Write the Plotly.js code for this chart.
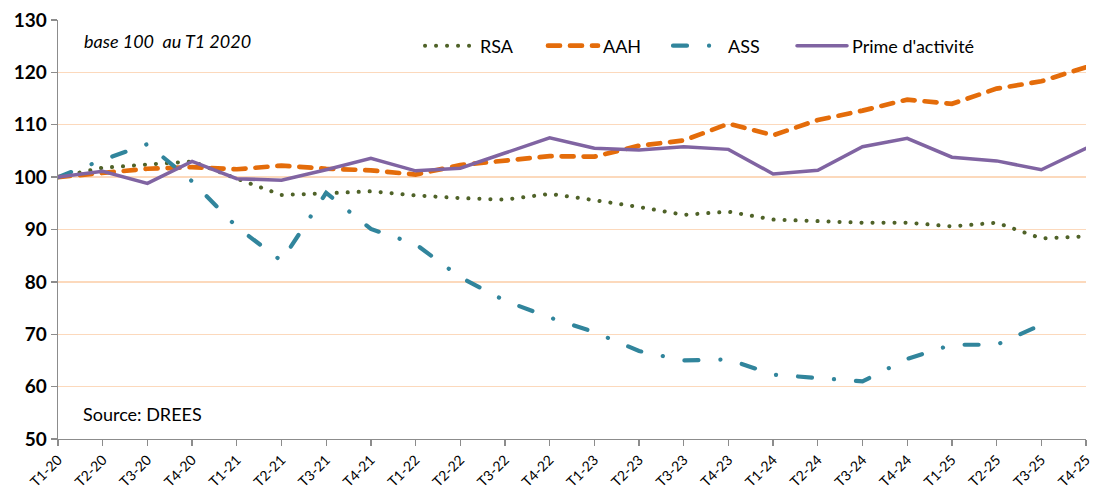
<!DOCTYPE html>
<html>
<head>
<meta charset="utf-8">
<script src="https://cdn.plot.ly/plotly-3.0.1.min.js"></script>
<style>
  html, body { margin: 0; padding: 0; background: #fff; }
  #chart { width: 1095px; height: 490px; }
  path.js-line { stroke-linecap: round !important; }
</style>
</head>
<body>
<div id="chart"></div>
<script>
const categories = ["T1-20","T2-20","T3-20","T4-20","T1-21","T2-21","T3-21","T4-21","T1-22","T2-22","T3-22","T4-22","T1-23","T2-23","T3-23","T4-23","T1-24","T2-24","T3-24","T4-24","T1-25","T2-25","T3-25","T4-25"];
const rsa   = [100, 101.8, 102.4, 103.0, 99.7, 96.6, 96.9, 97.3, 96.5, 96.0, 95.7, 96.8, 95.6, 94.3, 92.8, 93.4, 91.9, 91.6, 91.3, 91.3, 90.6, 91.3, 88.3, 88.7];
const aah   = [100, 100.8, 101.6, 101.9, 101.5, 102.2, 101.6, 101.3, 100.5, 102.3, 103.2, 104.0, 103.9, 106.0, 107.0, 110.2, 108.0, 110.9, 112.7, 114.8, 114.0, 116.9, 118.3, 121.0];
const ass   = [100, 103.3, 106.3, 99.2, 90.5, 84.0, 97.0, 90.1, 87.2, 80.9, 76.4, 73.2, 70.4, 66.8, 65.0, 65.2, 62.3, 61.6, 61.0, 65.3, 68.0, 68.0, 71.8, null];
const prime = [100, 101.1, 98.8, 103.0, 99.7, 99.4, 101.4, 103.6, 101.2, 101.7, 104.6, 107.5, 105.5, 105.2, 105.8, 105.3, 100.6, 101.3, 105.8, 107.4, 103.8, 103.1, 101.4, 105.5];
const seriesNames = ["RSA", "AAH", "ASS", "Prime d'activité"];
const yTicks = [50, 60, 70, 80, 90, 100, 110, 120, 130];

const FONT = "Lato, 'Open Sans', sans-serif";

const traces = [
  {x: categories, y: rsa, name: seriesNames[0], type: "scatter", mode: "lines", legend: "legend",
   line: {color: "#4F6228", width: 4, dash: "0.1px,10.9px"}},
  {x: categories, y: aah, name: seriesNames[1], type: "scatter", mode: "lines", legend: "legend2",
   line: {color: "#E46C0A", width: 4.7, dash: "12px,10px"}},
  {x: categories, y: ass, name: seriesNames[2], type: "scatter", mode: "lines", legend: "legend3",
   line: {color: "#31859C", width: 4.2, dash: "14px,22px,0.1px,22px"}},
  {x: categories, y: prime, name: seriesNames[3], type: "scatter", mode: "lines", legend: "legend4",
   line: {color: "#8064A2", width: 3.5}}
];

const PLOT_L = 58, PLOT_R = 1086;
function legendAt(px) {
  return {
    orientation: "h", x: (px - PLOT_L) / (PLOT_R - PLOT_L), xanchor: "left", y: 0.938, yanchor: "middle",
    font: {family: FONT, size: 18, color: "#000000"},
    bgcolor: "rgba(0,0,0,0)", itemwidth: 50
  };
}

const layout = {
  width: 1095, height: 490,
  margin: {l: PLOT_L, r: 1095 - PLOT_R, t: 20, b: 50.5, autoexpand: false},
  paper_bgcolor: "#ffffff", plot_bgcolor: "#ffffff",
  font: {family: FONT, color: "#000000"},
  showlegend: true,
  legend: legendAt(420),
  legend2: legendAt(543),
  legend3: legendAt(668),
  legend4: legendAt(792),
  xaxis: {
    type: "category", range: [0, 23], showgrid: false,
    showline: true, linecolor: "#8C8C8C", linewidth: 1.3,
    ticks: "outside", ticklen: 6, tickcolor: "#8C8C8C", tickwidth: 1.3,
    tickangle: -45, tickfont: {family: FONT, size: 14, color: "#000000"},
    zeroline: false, fixedrange: true
  },
  yaxis: {
    range: [50, 130], tickvals: yTicks, ticktext: yTicks.map(String),
    showgrid: true, gridcolor: "#FCD9BC", gridwidth: 1.3,
    showline: true, linecolor: "#8C8C8C", linewidth: 1.3,
    ticks: "outside", ticklen: 6, tickcolor: "#8C8C8C", tickwidth: 1.3,
    tickfont: {family: FONT, size: 19, color: "#000000", weight: "bold"},
    zeroline: false, fixedrange: true
  },
  annotations: [
    {xref: "paper", yref: "paper", x: 24 / (PLOT_R - PLOT_L), y: 0.95, xanchor: "left", yanchor: "middle",
     text: "<i>base 100  au T1 2020</i>", showarrow: false,
     font: {family: FONT, size: 18, color: "#000000"}},
    {xref: "paper", yref: "paper", x: 23 / (PLOT_R - PLOT_L), y: 0.06, xanchor: "left", yanchor: "middle",
     text: "Source: DREES", showarrow: false,
     font: {family: FONT, size: 18, color: "#000000"}}
  ]
};

Plotly.newPlot("chart", traces, layout, {displayModeBar: false, staticPlot: true});
</script>
</body>
</html>
